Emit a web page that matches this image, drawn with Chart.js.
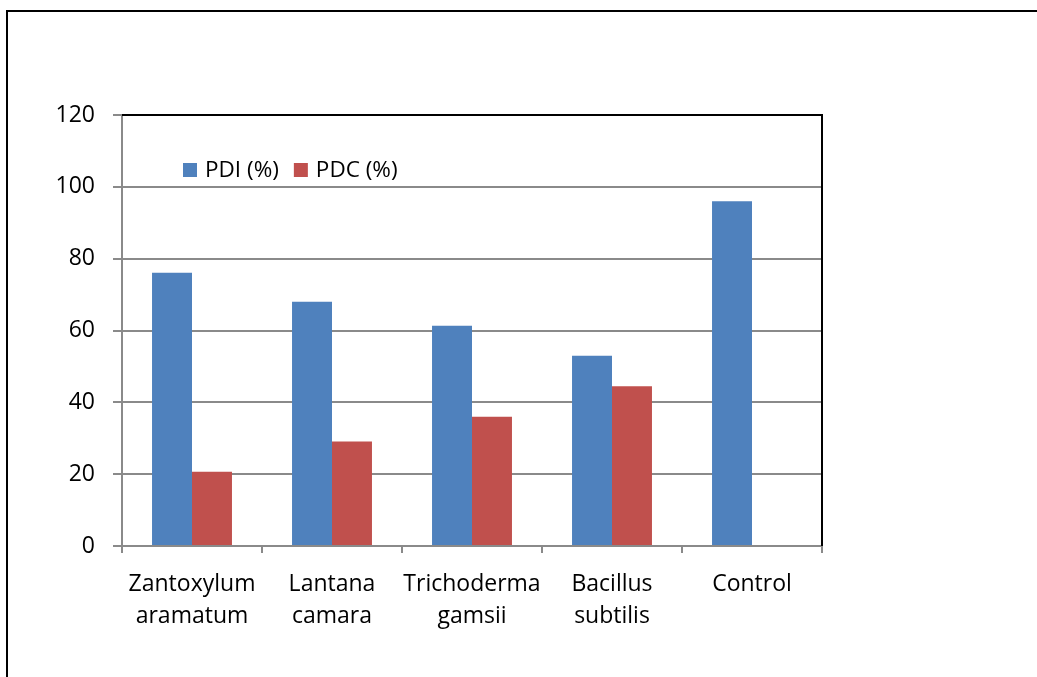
<!DOCTYPE html>
<html>
<head>
<meta charset="utf-8">
<title>PDI and PDC by treatment</title>
<script src="https://cdn.jsdelivr.net/npm/chart.js@4/dist/chart.umd.min.js"></script>
<style>
  html, body { margin: 0; padding: 0; background: #fff; overflow: hidden; }
  #wrap { position: relative; width: 1037px; height: 677px; }
</style>
</head>
<body>
<div id="wrap"><canvas id="c" width="1037" height="677"></canvas></div>
<script>
// Treatments (two-line labels) and measured percentages
const categories = [
  ['Zantoxylum', 'aramatum'],
  ['Lantana', 'camara'],
  ['Trichoderma', 'gamsii'],
  ['Bacillus', 'subtilis'],
  'Control'
];
const pdiValues = [76.1, 68.0, 61.3, 53.0, 96.0];
const pdcValues = [20.7, 29.1, 36.0, 44.5, null];
const seriesNames = ['PDI (%)', 'PDC (%)'];
const seriesColors = ['#4F81BD', '#C0504D'];
const yTicks = [0, 20, 40, 60, 80, 100, 120];

const FONT = "'Open Sans', 'DejaVu Sans', sans-serif";
const GRID = '#8a8a8a';

// Outer frame, dark plot border (top/right) and the in-plot legend
const decorations = {
  id: 'decorations',
  afterDraw(chart) {
    const ctx = chart.ctx;
    const a = chart.chartArea;
    ctx.save();
    // outer frame
    ctx.strokeStyle = '#000';
    ctx.lineWidth = 2;
    ctx.beginPath();
    ctx.moveTo(7, 677);
    ctx.lineTo(7, 11);
    ctx.lineTo(1037, 11);
    ctx.stroke();
    // plot border top and right
    ctx.beginPath();
    ctx.moveTo(a.left, a.top);
    ctx.lineTo(a.right, a.top);
    ctx.lineTo(a.right, a.bottom);
    ctx.stroke();
    // legend
    ctx.font = '22.5px ' + FONT;
    ctx.textBaseline = 'middle';
    ctx.textAlign = 'left';
    let x = 183;
    const yc = 170;
    chart.data.datasets.forEach(ds => {
      ctx.fillStyle = ds.backgroundColor;
      ctx.fillRect(x, yc - 7, 14, 14);
      ctx.fillStyle = '#000';
      ctx.fillText(ds.label, x + 22, yc + 1);
      x += 22 + ctx.measureText(ds.label).width + 15;
    });
    ctx.restore();
  }
};

new Chart(document.getElementById('c'), {
  type: 'bar',
  data: {
    labels: categories,
    datasets: [
      { label: seriesNames[0], data: pdiValues, backgroundColor: seriesColors[0] },
      { label: seriesNames[1], data: pdcValues, backgroundColor: seriesColors[1] }
    ]
  },
  options: {
    responsive: false,
    animation: false,
    devicePixelRatio: 1,
    layout: { padding: { left: 0, top: 115, right: 215, bottom: 0 } },
    datasets: { bar: { categoryPercentage: 0.571, barPercentage: 1.0, borderWidth: 0 } },
    plugins: {
      legend: { display: false },
      tooltip: { enabled: false }
    },
    scales: {
      x: {
        offset: true,
        grid: {
          offset: true,
          drawOnChartArea: false,
          drawTicks: true,
          tickLength: 7,
          color: GRID,
          lineWidth: 2
        },
        border: { color: GRID, width: 2 },
        ticks: {
          color: '#000',
          font: { family: FONT, size: 23, lineHeight: 1.39 },
          padding: 15,
          maxRotation: 0,
          autoSkip: false
        },
        afterFit(scale) { scale.height = 131; }
      },
      y: {
        min: 0,
        max: 120,
        afterBuildTicks(scale) { scale.ticks = yTicks.map(v => ({ value: v })); },
        grid: {
          color: ctx => (ctx.tick && ctx.tick.value === 120 ? '#000' : GRID),
          tickColor: GRID,
          lineWidth: 2,
          tickLength: 9
        },
        border: { color: GRID, width: 2 },
        ticks: {
          color: '#000',
          font: { family: FONT, size: 23 },
          padding: 18
        },
        afterFit(scale) { scale.width = 122; }
      }
    }
  },
  plugins: [decorations]
});
</script>
</body>
</html>
